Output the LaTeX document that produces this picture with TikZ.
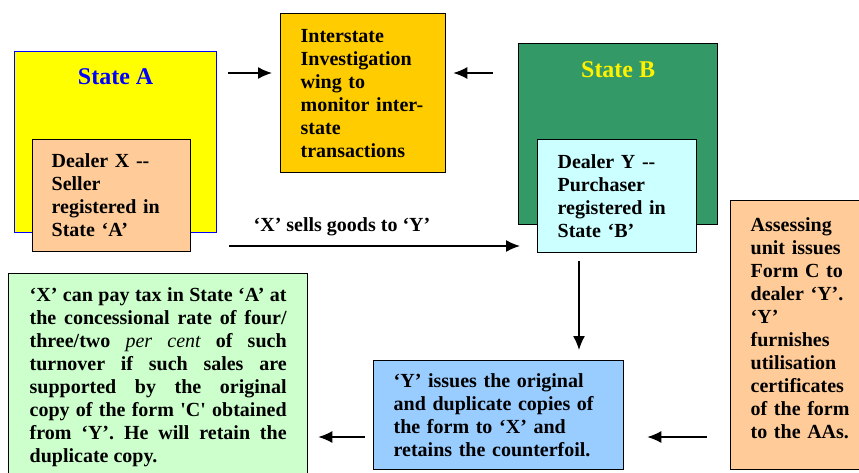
\documentclass[tikz,border=0pt]{standalone}
\usepackage{fontspec}
\setmainfont{Liberation Serif}
\usepackage{xcolor}
\usepackage{tikz}
\usetikzlibrary{positioning,calc}
\usetikzlibrary{arrows.meta}

\definecolor{stAfill}{HTML}{FFFF00}
\definecolor{stBfill}{HTML}{339966}
\definecolor{peach}{HTML}{FFCC99}
\definecolor{gold}{HTML}{FFCC00}
\definecolor{paleblue}{HTML}{CCFFFF}
\definecolor{skyblue}{HTML}{99CCFF}
\definecolor{palegreen}{HTML}{CCFFCC}

\tikzset{
	box/.style={draw=black, line width=1.3pt, anchor=north west, inner ysep=0pt,
		align=left, font=\bfseries\fontsize{20}{23}\selectfont},
	statebox/.style={draw, line width=1.3pt, anchor=north west, inner sep=0pt},
	title/.style={font=\bfseries\fontsize{24}{28}\selectfont, inner sep=0pt},
	arr/.style={-{Latex[length=14pt,width=12pt]}, line width=1.5pt},
	lbl/.style={font=\bfseries\fontsize{20}{23}\selectfont, inner sep=0pt}
}

\begin{document}
\begin{tikzpicture}[x=1pt,y=-1pt]
	\useasboundingbox (0,0) rectangle (859,472);
	\clip (0,0) rectangle (859,472);
	% the two states
	\node[statebox, draw=blue, fill=stAfill, minimum width=202, minimum height=181] (stateA) at (14,51) {};
	\node[title, text=blue] (titleA) at ([yshift=-26]stateA.north) {State A};
	\node[statebox, draw=black, fill=stBfill, minimum width=199, minimum height=181] (stateB) at (518,43) {};
	\node[title, text=yellow] (titleB) at ([yshift=-27]stateB.north) {State B};
	% dealers
	\node[box, fill=peach, text width=120, inner xsep=19, minimum height=112] (dealerX) at (32,139)
		{Dealer X -{}-\\Seller\\registered in\\State ‘A’};
	\node[box, fill=paleblue, text width=119, inner xsep=20, minimum height=113] (dealerY) at (537,139)
		{Dealer Y -{}-\\Purchaser\\registered in\\State ‘B’};
	% investigation wing
	\node[box, fill=gold, text width=125, inner xsep=20, minimum height=159] (wing) at (280,13)
		{Interstate\\Investigation\\wing to\\monitor inter-\\state\\transactions};
	% assessing unit
	\node[box, fill=peach, text width=110, inner xsep=20, minimum height=269] (assess) at (730,200)
		{Assessing\\unit issues\\Form C to\\dealer ‘Y’.\\‘Y’\\furnishes\\utilisation\\certificates\\of the form\\to the AAs.\\[-9pt]\mbox{}};
	% form C issue
	\node[box, fill=skyblue, text width=210, inner xsep=20, minimum height=109] (issue) at (373,360)
		{‘Y’ issues the original\\and duplicate copies of\\the form to ‘X’ and\\retains the counterfoil.};
	% concessional rate
	\node[box, fill=palegreen, text width=257, inner xsep=21, minimum height=207, align=justify] (concess) at (8,273)
		{‘X’ can pay tax in State ‘A’ at\linebreak the concessional rate of four/\linebreak three/two {\normalfont\itshape per cent} of such\linebreak turnover if such sales are\linebreak supported by the original\linebreak copy of the form \textquotesingle C\textquotesingle{} obtained\linebreak from ‘Y’. He will retain the\linebreak duplicate copy.};
	% arrows
	\coordinate (rowtop) at (0,73);
	\coordinate (rowsell) at (0,246);
	\coordinate (rowlow) at (0,437);
	\coordinate (coldown) at (579,0);
	\draw[arr, shorten <=11, shorten >=8] (stateA.east |- rowtop) -- (wing.west |- rowtop);
	\draw[arr, shorten <=25, shorten >=7] (stateB.west |- rowtop) -- (wing.east |- rowtop);
	\draw[arr, shorten <=12, shorten >=17] (stateA.east |- rowsell) -- (dealerY.west |- rowsell)
		node[lbl, pos=0.39, above=9pt] (sells) {‘X’ sells goods to ‘Y’};
	\draw[arr, shorten <=8, shorten >=10] (dealerY.south -| coldown) -- (issue.north -| coldown);
	\draw[arr, shorten <=23, shorten >=23] (assess.west |- rowlow) -- (issue.east |- rowlow);
	\draw[arr, shorten <=8, shorten >=10] (issue.west |- rowlow) -- (concess.east |- rowlow);
\end{tikzpicture}
\end{document}
